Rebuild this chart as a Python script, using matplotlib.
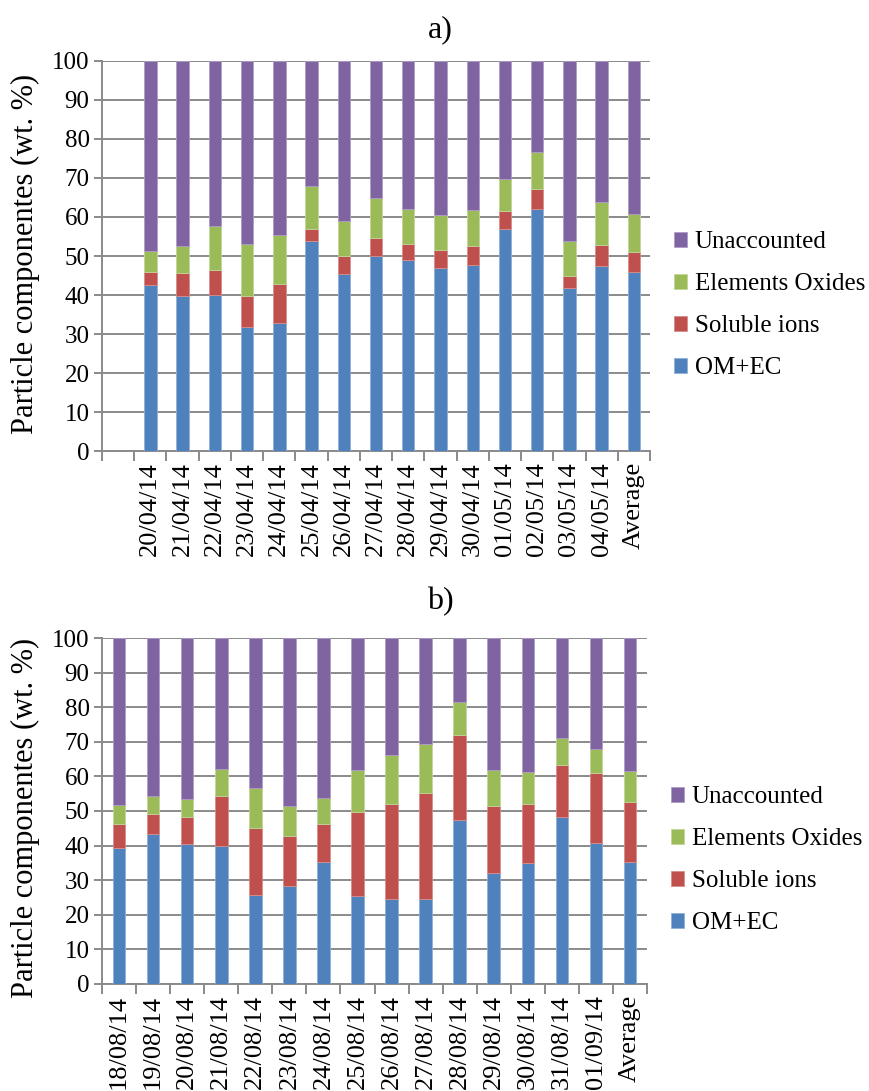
import matplotlib
matplotlib.use("Agg")
import matplotlib.pyplot as plt
import numpy as np

plt.rcParams['font.family'] = ['Liberation Serif', 'DejaVu Serif']

# ---- data: component shares of particle mass (wt.%) ----
dates_a = ['', '20/04/14', '21/04/14', '22/04/14', '23/04/14', '24/04/14', '25/04/14',
           '26/04/14', '27/04/14', '28/04/14', '29/04/14', '30/04/14', '01/05/14',
           '02/05/14', '03/05/14', '04/05/14', 'Average']
om_ec_a = [0, 42.6, 39.7, 39.9, 31.8, 32.8, 53.8, 45.5, 49.9, 49.1, 47.0, 47.7, 57.0,
           62.0, 41.8, 47.5, 45.9]
soluble_a = [0, 3.2, 6.0, 6.5, 7.9, 10.0, 3.2, 4.5, 4.8, 3.9, 4.6, 4.9, 4.6,
             5.3, 3.1, 5.4, 5.2]
oxides_a = [0, 5.4, 6.8, 11.3, 13.3, 12.7, 11.0, 9.1, 10.2, 9.1, 8.9, 9.2, 8.1,
            9.4, 8.9, 11.0, 9.6]
unacc_a = [0, 48.8, 47.5, 42.3, 47.0, 44.5, 32.0, 40.9, 35.1, 37.9, 39.5, 38.2, 30.3,
           23.3, 46.2, 36.1, 39.3]

dates_b = ['18/08/14', '19/08/14', '20/08/14', '21/08/14', '22/08/14', '23/08/14',
           '24/08/14', '25/08/14', '26/08/14', '27/08/14', '28/08/14', '29/08/14',
           '30/08/14', '31/08/14', '01/09/14', 'Average']
om_ec_b = [39.2, 43.4, 40.6, 39.8, 25.6, 28.4, 35.4, 25.3, 24.7, 24.7, 47.5, 32.0,
           34.9, 48.2, 40.8, 35.4]
soluble_b = [7.0, 5.8, 7.8, 14.4, 19.6, 14.3, 10.9, 24.5, 27.4, 30.6, 24.5, 19.3,
             17.2, 15.2, 20.1, 17.2]
oxides_b = [5.5, 5.1, 5.2, 8.0, 11.5, 8.7, 7.4, 12.1, 14.1, 14.1, 9.6, 10.6,
            9.2, 7.8, 7.1, 9.1]
unacc_b = [48.3, 45.7, 46.4, 37.8, 43.3, 48.6, 46.3, 38.1, 33.8, 30.6, 18.4, 38.1,
           38.7, 28.8, 32.0, 38.3]

series_names = ['OM+EC', 'Soluble ions', 'Elements Oxides', 'Unaccounted']
colors = ['#4F81BD', '#C0504D', '#9BBB59', '#8064A2']
edges = ['#8FB0D8', '#D98C8A', '#C2D79A', '#AE9CC6']

fig = plt.figure(figsize=(8.69, 10.91), dpi=100)
ax_a = fig.add_axes([0.1174, 0.5866, 0.6306, 0.3575])
ax_b = fig.add_axes([0.1174, 0.0981, 0.6272, 0.3171])

FS = 18
GRID = '#8a8a8a'


def draw_panel(ax, labels, comps, width, legend_y, label_y):
    n = len(labels)
    x = np.arange(n) + 0.5
    bottom = np.zeros(n)
    handles = []
    for vals, name, c, e in zip(comps, series_names, colors, edges):
        vals = np.asarray(vals, dtype=float)
        mask = vals > 0
        h = ax.bar(x[mask], vals[mask], width, bottom=bottom[mask], color=c,
                   edgecolor=e, linewidth=0.6, label=name, zorder=3)
        handles.append(h)
        bottom = bottom + vals
    ax.set_xlim(0, n)
    ax.set_ylim(0, 100)
    ax.set_yticks(np.arange(0, 101, 10))
    ax.yaxis.grid(True, color=GRID, linewidth=1.4, zorder=0)
    ax.set_axisbelow(True)
    for s in ['top', 'right']:
        ax.spines[s].set_visible(False)
    for s in ['left', 'bottom']:
        ax.spines[s].set_color(GRID)
        ax.spines[s].set_linewidth(1.4)
    ax.set_xticks(x)
    ax.set_xticklabels(labels, rotation=90, fontsize=FS + 1)
    ax.set_xticks(np.arange(0, n + 1), minor=True)
    ax.tick_params(axis='x', which='major', length=0, pad=8)
    ax.tick_params(axis='x', which='minor', length=7, width=1.4, color=GRID,
                   direction='out')
    ax.tick_params(axis='y', length=6, width=1.4, color=GRID, labelsize=FS, pad=3)
    ax.set_ylabel('Particle componentes (wt. %)', fontsize=22)
    ax.yaxis.set_label_coords(-0.113, label_y)
    ax.legend(handles[::-1], series_names[::-1], loc='center left',
              bbox_to_anchor=(1.025, legend_y), frameon=False, fontsize=FS,
              handlelength=0.55, handleheight=0.55, handletextpad=0.3,
              labelspacing=0.8, borderaxespad=0)


draw_panel(ax_a, dates_a, [om_ec_a, soluble_a, oxides_a, unacc_a], 0.385, 0.374, 0.505)
draw_panel(ax_b, dates_b, [om_ec_b, soluble_b, oxides_b, unacc_b], 0.37, 0.358, 0.48)

fig.text(0.507, 1 - 30 / 1091, 'a)', fontsize=23, ha='center', va='center')
fig.text(0.507, 1 - 602 / 1091, 'b)', fontsize=23, ha='center', va='center')

fig.savefig('out.png', dpi=100)
